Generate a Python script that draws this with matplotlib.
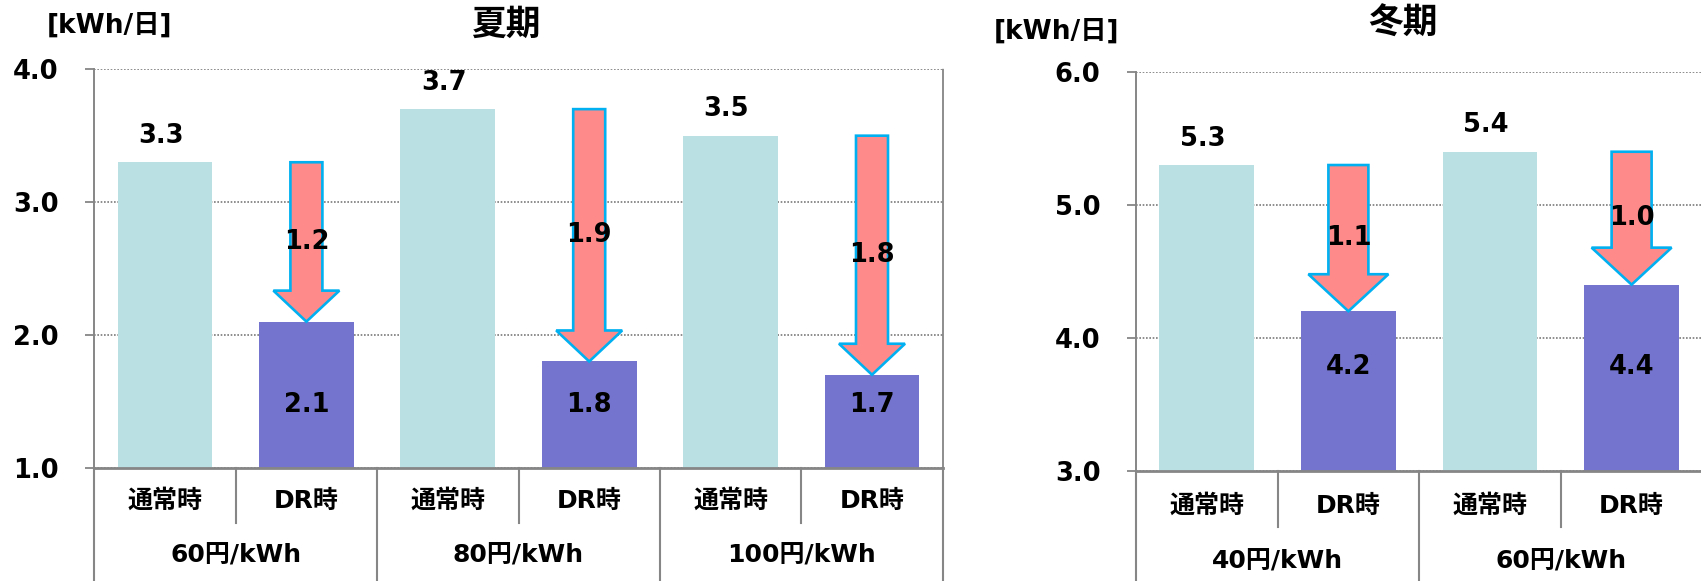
import matplotlib
matplotlib.use("Agg")
import matplotlib.pyplot as plt
from matplotlib.patches import FancyArrow
from matplotlib.transforms import blended_transform_factory

# --- data -------------------------------------------------------------
case_labels = ["通常時", "DR時"]

summer_groups = ["60円/kWh", "80円/kWh", "100円/kWh"]
summer_normal = [3.3, 3.7, 3.5]
summer_dr = [2.1, 1.8, 1.7]

winter_groups = ["40円/kWh", "60円/kWh"]
winter_normal = [5.3, 5.4]
winter_dr = [4.2, 4.4]

summer_ticks = [1.0, 2.0, 3.0, 4.0]
winter_ticks = [3.0, 4.0, 5.0, 6.0]

# --- style ------------------------------------------------------------
FONT = ["DejaVu Sans", "Noto Sans CJK JP"]
plt.rcParams["font.family"] = FONT
plt.rcParams["font.weight"] = "bold"

C_NORMAL = "#BAE0E3"
C_DR = "#7474CE"
C_ARROW = "#FF8A8A"
C_ARROW_EDGE = "#00B0F0"
C_AXIS = "#868686"
C_GRID = "#7A7A7A"

W, H = 1701, 581
fig = plt.figure(figsize=(W / 100, H / 100), dpi=100)


def px_axes(x0, y0, x1, y1):
    return fig.add_axes([x0 / W, 1 - y1 / H, (x1 - x0) / W, (y1 - y0) / H])


def draw_panel(ax, groups, normal, dr, ticks, shaft_px, head_px, head_len_px,
               dr_label_y, row1, row2, inner_sep, title, title_xy, unit_xy):
    n = len(groups) * 2
    ymin, ymax = ticks[0], ticks[-1]
    ax.set_xlim(-0.5, n - 0.5)
    ax.set_ylim(ymin, ymax)
    ax.set_axisbelow(True)

    # pixel -> data conversions
    bbox = ax.get_window_extent()
    x_per_px = n / bbox.width
    y_per_px = (ymax - ymin) / bbox.height

    xs_normal = [2 * i for i in range(len(groups))]
    xs_dr = [2 * i + 1 for i in range(len(groups))]
    ax.bar(xs_normal, [v - ymin for v in normal], bottom=ymin, width=0.67,
           color=C_NORMAL, zorder=2)
    ax.bar(xs_dr, [v - ymin for v in dr], bottom=ymin, width=0.67,
           color=C_DR, zorder=2)

    for x, v in zip(xs_normal, normal):
        ax.annotate(f"{v:.1f}", xy=(x, v), xytext=(-3, 19),
                    textcoords="offset points", ha="center", va="center",
                    fontsize=18.5, fontweight="bold", zorder=5)

    for x, v in zip(xs_dr, dr):
        ax.text(x, dr_label_y, f"{v:.1f}", ha="center", va="center",
                fontsize=18.5, fontweight="bold", zorder=5)

    # reduction arrows from normal level down to DR level
    for x, top, bottom in zip(xs_dr, normal, dr):
        arrow = FancyArrow(x, top, 0, bottom - top,
                           width=shaft_px * x_per_px,
                           head_width=head_px * x_per_px,
                           head_length=head_len_px * y_per_px,
                           length_includes_head=True,
                           facecolor=C_ARROW, edgecolor=C_ARROW_EDGE,
                           linewidth=1.9, zorder=3, joinstyle="miter")
        ax.add_patch(arrow)
        ax.text(x, (top + bottom) / 2, f"{top - bottom:.1f}", ha="center",
                va="center", fontsize=18.5, fontweight="bold", zorder=6)

    # axes styling
    ax.set_yticks(ticks)
    ax.set_yticklabels([f"{t:.1f}" for t in ticks], fontsize=18.5,
                       fontweight="bold", fontfamily=FONT)
    ax.yaxis.grid(True, linestyle=(0, (1.0, 1.0)), color=C_GRID, linewidth=1.2)
    ax.tick_params(axis="y", direction="out", length=6.5, width=1.3,
                   color=C_AXIS, pad=19)
    ax.tick_params(axis="x", length=0, labelbottom=False)
    ax.spines["top"].set_visible(False)
    ax.spines["left"].set_color(C_AXIS)
    ax.spines["left"].set_linewidth(1.4)
    ax.spines["bottom"].set_color(C_AXIS)
    ax.spines["bottom"].set_linewidth(2.0)
    ax.spines["right"].set_color(C_GRID)
    ax.spines["right"].set_linewidth(1.2)
    ax.spines["right"].set_linestyle((0, (1.0, 1.0)))

    # two-level category labels below the axis
    tr = blended_transform_factory(ax.transData, ax.transAxes)
    for i in range(n):
        ax.text(i, row1, case_labels[i % 2], transform=tr, ha="center",
                va="center", fontsize=18, fontweight="bold", clip_on=False)
    for g, name in enumerate(groups):
        ax.text(2 * g + 0.5, row2, name, transform=tr, ha="center",
                va="center", fontsize=18, fontweight="bold", clip_on=False)
    for b in range(n + 1):
        x = b - 0.5
        y_end = inner_sep if b % 2 == 1 else -0.5
        ax.plot([x, x], [0, y_end], transform=tr, color=C_AXIS, lw=1.5,
                clip_on=False, zorder=1)

    fig.text(title_xy[0] / W, 1 - title_xy[1] / H, title, ha="center",
             va="center", fontsize=25, fontweight="bold",
             fontfamily=["Noto Sans CJK JP"])
    fig.text(unit_xy[0] / W, 1 - unit_xy[1] / H, "[kWh/日]", ha="center",
             va="center", fontsize=19, fontweight="bold", fontfamily=FONT)


ax_s = px_axes(94.3, 69.3, 942.7, 467.7)
ax_w = px_axes(1136.0, 72.0, 1702.4, 470.7)

draw_panel(ax_s, summer_groups, summer_normal, summer_dr, summer_ticks,
           shaft_px=32, head_px=66, head_len_px=31, dr_label_y=1.47,
           row1=-0.0836, row2=-0.2216, inner_sep=-0.139, title="夏期",
           title_xy=(506, 24), unit_xy=(109, 26))
draw_panel(ax_w, winter_groups, winter_normal, winter_dr, winter_ticks,
           shaft_px=40, head_px=80, head_len_px=37, dr_label_y=3.78,
           row1=-0.0873, row2=-0.228, inner_sep=-0.14, title="冬期",
           title_xy=(1403, 23), unit_xy=(1056, 32))

fig.savefig("out.png", dpi=100)
